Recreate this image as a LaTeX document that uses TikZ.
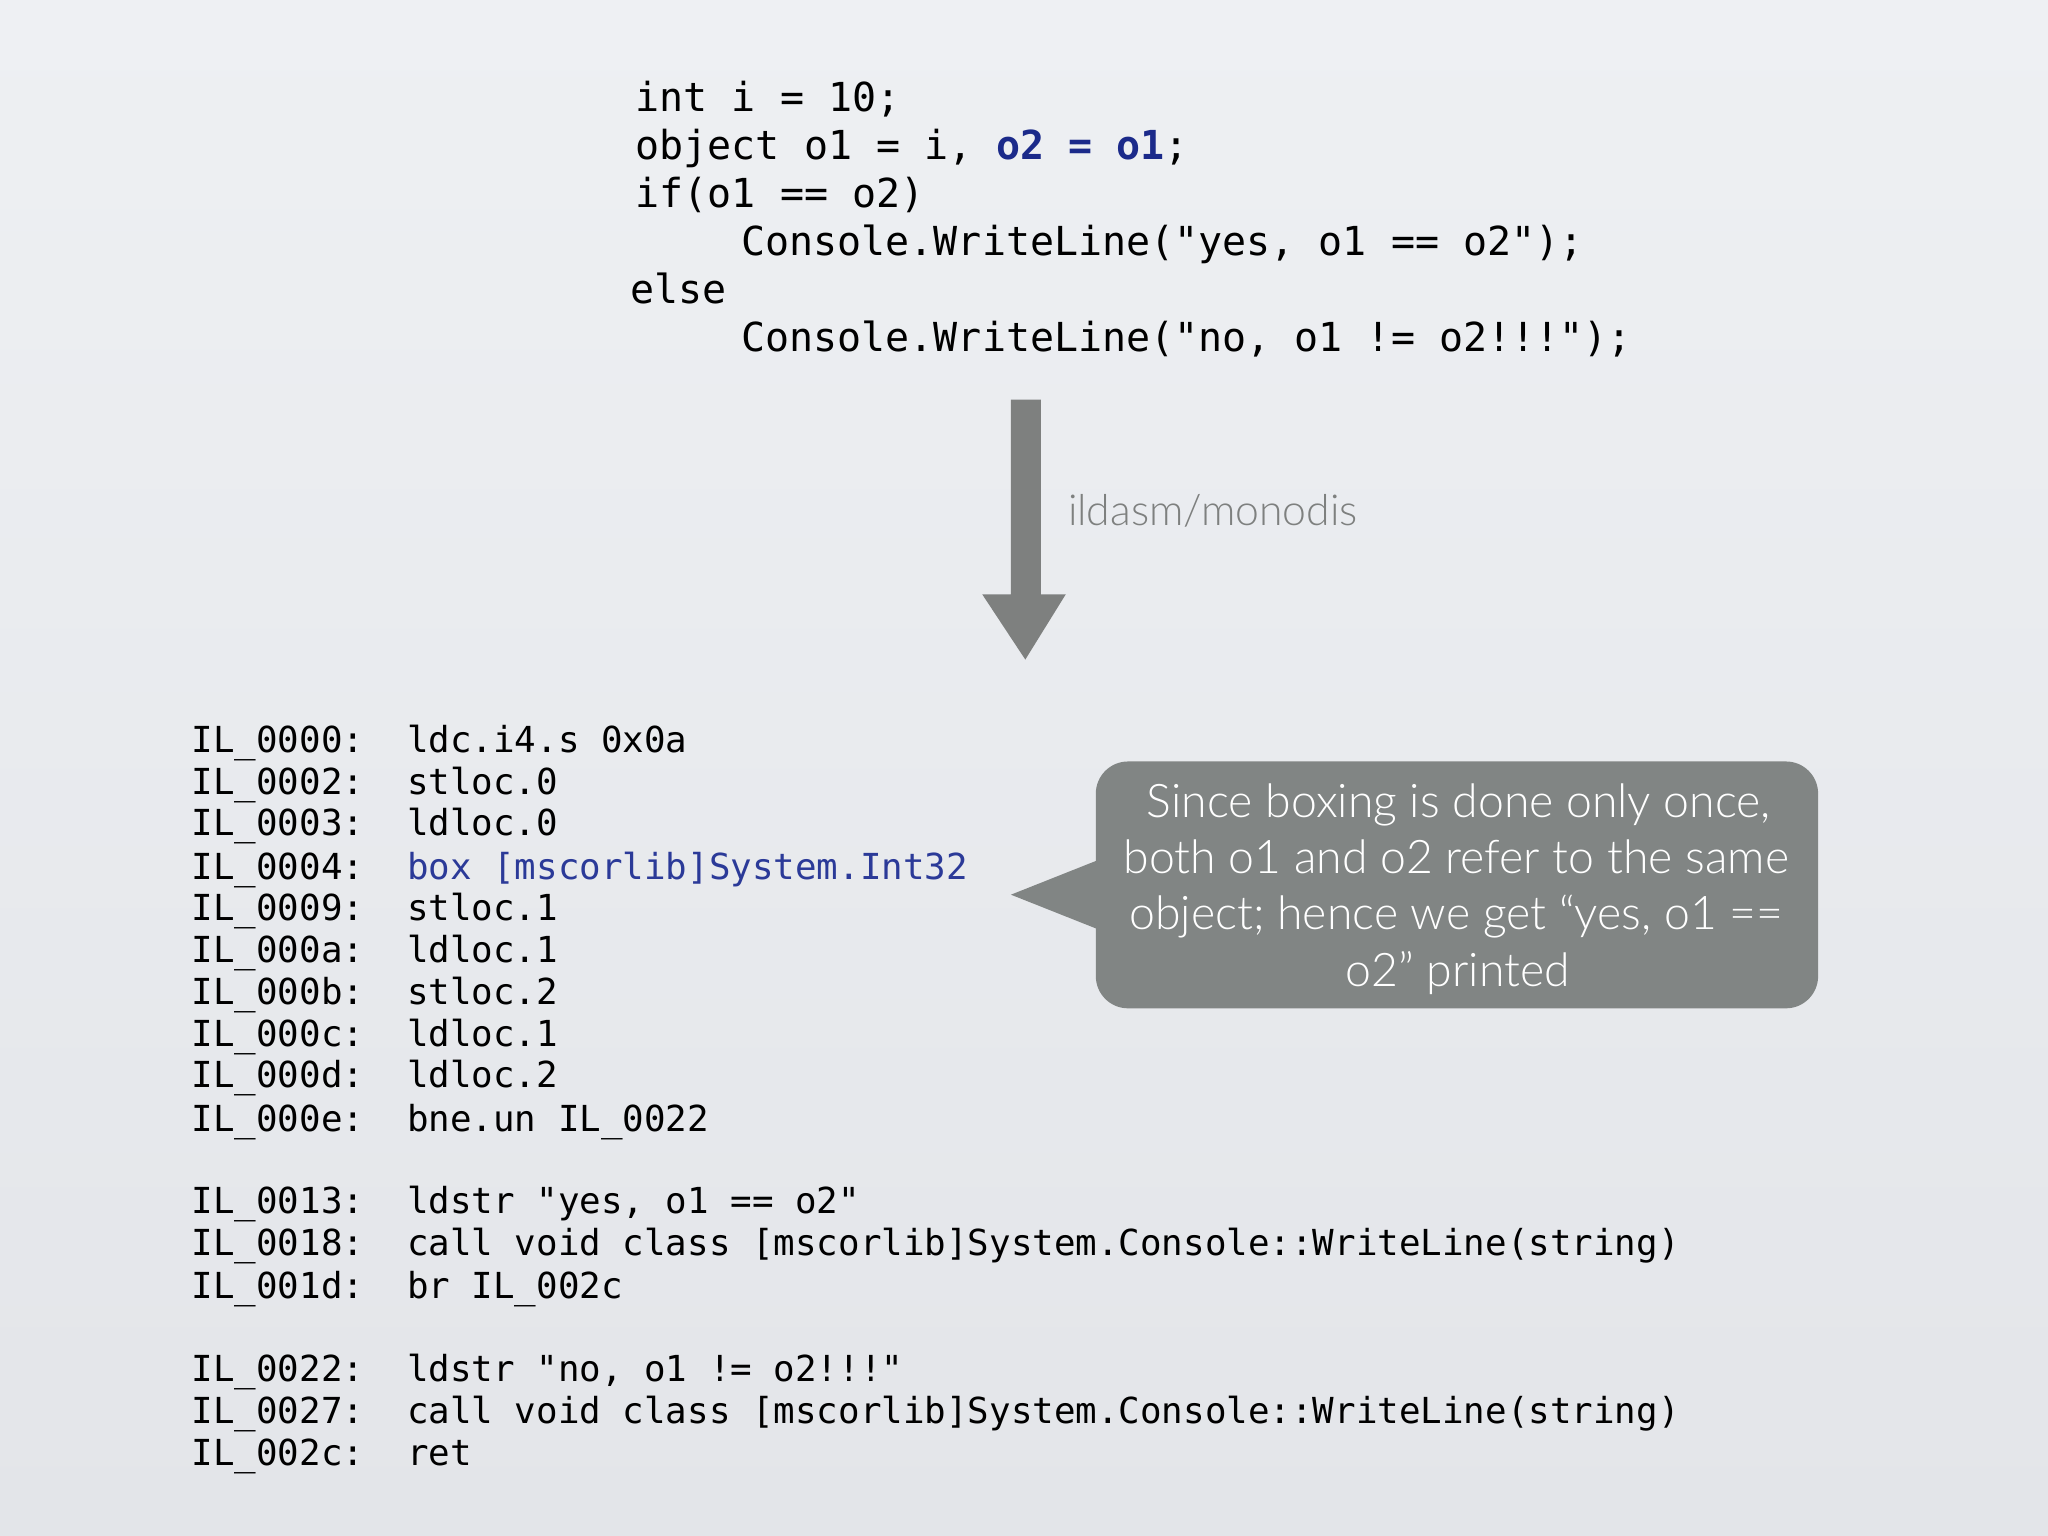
\documentclass[tikz,border=0pt]{standalone}
\usepackage{fontspec}
\setmonofont{DejaVu Sans Mono}
\setmainfont{Lato}
\newfontfamily\lightfont{Lato Light}
\definecolor{bgtop}{HTML}{EEF0F3}
\definecolor{bgbot}{HTML}{E3E5E9}
\definecolor{codeblue}{HTML}{1B2A8A}
\definecolor{boxblue}{HTML}{2B3A98}
\definecolor{arrowgray}{HTML}{7E807F}
\definecolor{callgray}{HTML}{818584}
\begin{document}
\begin{tikzpicture}[x=0.01cm,y=-0.01cm,
  topcode/.style={anchor=base west,inner sep=0,font=\ttfamily\fontsize{8.7pt}{10pt}\selectfont},
  ilcode/.style={anchor=base west,inner sep=0,font=\ttfamily\fontsize{7.8pt}{9pt}\selectfont},
  calltext/.style={anchor=base,inner sep=0,text=white,font=\lightfont\fontsize{10.1pt}{12pt}\selectfont}]
\shade[top color=bgtop,bottom color=bgbot] (0,0) rectangle (1568,1176);
\useasboundingbox (0,0) rectangle (1568,1176);
% top code
\node[topcode] (t1) at (486,85) {int i = 10;};
\node[topcode] (t2) at (486,122) {object o1 = i, \textcolor{codeblue}{\bfseries o2 = o1};};
\node[topcode] (t3) at (486,159) {if(o1 == o2)};
\node[topcode] (t4) at (567,196) {Console.WriteLine("yes, o1 == o2");};
\node[topcode] (t5) at (482,232) {else};
\node[topcode] (t6) at (567,269) {Console.WriteLine("no, o1 != o2!!!");};
% arrow
\fill[arrowgray] (774,306) -- (797,306) -- (797,455) -- (816,455) -- (785,505) -- (752,455) -- (774,455) -- cycle;
\node[anchor=west,inner sep=0,text=arrowgray,font=\lightfont\fontsize{9.3pt}{11pt}\selectfont] (lab) at (817,391) {ildasm/monodis};
% callout
\fill[callgray,rounded corners=7] (839,583) rectangle (1392,772);
\fill[callgray] (842,658) -- (774,685) -- (842,712) -- cycle;
\node[calltext] (c1) at (1117,626) {Since boxing is done only once,};
\node[calltext] (c2) at (1115,669) {both o1 and o2 refer to the same};
\node[calltext] (c3) at (1115,712) {object; hence we get “yes, o1 ==};
\node[calltext] (c4) at (1116,755) {o2” printed};
% IL code
\foreach \lab/\ins/\y [count=\i] in {
 IL\_0000:/ldc.i4.s 0x0a/566,
 IL\_0002:/stloc.0/598,
 IL\_0003:/ldloc.0/630,
 IL\_0004:/\textcolor{boxblue}{box [mscorlib]System.Int32}/663,
 IL\_0009:/stloc.1/695,
 IL\_000a:/ldloc.1/727,
 IL\_000b:/stloc.2/759,
 IL\_000c:/ldloc.1/791,
 IL\_000d:/ldloc.2/823,
 IL\_000e:/bne.un IL\_0022/856,
 IL\_0013:/ldstr "yes{,} o1 == o2"/919,
 IL\_0018:/call void class [mscorlib]System.Console::WriteLine(string)/951,
 IL\_001d:/br IL\_002c/984,
 IL\_0022:/ldstr "no{,} o1 != o2!!!"/1048,
 IL\_0027:/call void class [mscorlib]System.Console::WriteLine(string)/1080,
 IL\_002c:/ret/1112}{
  \node[ilcode] (l\i) at (146,\y+10) {\lab};
  \node[ilcode] (r\i) at (311,\y+10) {\ins};
}
\end{tikzpicture}
\end{document}
